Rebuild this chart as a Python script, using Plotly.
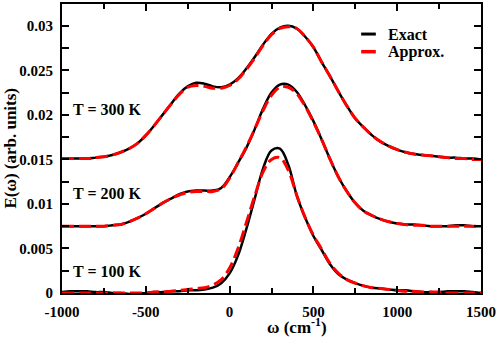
import plotly.graph_objects as go

# frequency grid (cm^-1)
omega = list(range(-1000, 1501, 50))

# T = 300 K (offset 0.015)
exact_300 = [0.0151, 0.0151, 0.0151, 0.0151, 0.0152, 0.0153, 0.0155, 0.0158, 0.0162, 0.0168,
             0.0177, 0.0188, 0.0200, 0.0212, 0.0224, 0.0232, 0.0236, 0.0235, 0.0232, 0.0231,
             0.0234, 0.0241, 0.0252, 0.0265, 0.0279, 0.0291, 0.0298, 0.0300, 0.0297, 0.0288,
             0.0276, 0.0259, 0.0243, 0.0226, 0.0210, 0.0196, 0.0186, 0.0177, 0.0170, 0.0165,
             0.0161, 0.0158, 0.0156, 0.0155, 0.0154, 0.0153, 0.0152, 0.0152, 0.0151, 0.0151,
             0.0150]
approx_300 = [0.0151, 0.0151, 0.0151, 0.0151, 0.0152, 0.0153, 0.0155, 0.0158, 0.0162, 0.0168,
              0.0177, 0.0188, 0.0200, 0.0212, 0.0223, 0.0231, 0.0233, 0.0232, 0.0230, 0.0230,
              0.0233, 0.0240, 0.0251, 0.0264, 0.0278, 0.0290, 0.0297, 0.0299, 0.0297, 0.0288,
              0.0276, 0.0259, 0.0243, 0.0226, 0.0210, 0.0196, 0.0186, 0.0177, 0.0170, 0.0165,
              0.0161, 0.0158, 0.0156, 0.0155, 0.0154, 0.0153, 0.0152, 0.0151, 0.0151, 0.0150,
              0.0150]

# T = 200 K (offset 0.0075)
exact_200 = [0.0075, 0.0075, 0.0075, 0.0075, 0.0075, 0.0075, 0.0076, 0.0077, 0.0080, 0.0084,
             0.0089, 0.0095, 0.0101, 0.0106, 0.0111, 0.0114, 0.0115, 0.0115, 0.0115, 0.0118,
             0.0130, 0.0146, 0.0163, 0.0184, 0.0207, 0.0225, 0.0234, 0.0234, 0.0226, 0.0211,
             0.0193, 0.0172, 0.0150, 0.0130, 0.0114, 0.0101, 0.0092, 0.0087, 0.0083, 0.0080,
             0.0078, 0.0077, 0.0077, 0.0076, 0.0075, 0.0075, 0.0075, 0.0076, 0.0076, 0.0075,
             0.0075]
approx_200 = [0.0075, 0.0075, 0.0075, 0.0075, 0.0075, 0.0075, 0.0076, 0.0077, 0.0080, 0.0084,
              0.0089, 0.0095, 0.0101, 0.0106, 0.0110, 0.0113, 0.0114, 0.0114, 0.0114, 0.0117,
              0.0129, 0.0146, 0.0164, 0.0184, 0.0205, 0.0222, 0.0231, 0.0231, 0.0224, 0.0210,
              0.0192, 0.0172, 0.0150, 0.0130, 0.0114, 0.0101, 0.0092, 0.0087, 0.0083, 0.0080,
              0.0078, 0.0077, 0.0076, 0.0076, 0.0075, 0.0075, 0.0075, 0.0075, 0.0075, 0.0075,
              0.0075]

# T = 100 K (no offset)
exact_100 = [0.0001, 0.0002, 0.0002, 0.0002, 0.0001, 0.0001, 0.0000, 0.0000, -0.0001, -0.0001,
             0.0000, 0.0001, 0.0001, 0.0002, 0.0002, 0.0003, 0.0003, 0.0004, 0.0006, 0.0011,
             0.0022, 0.0042, 0.0072, 0.0106, 0.0140, 0.0160, 0.0162, 0.0144, 0.0110, 0.0085,
             0.0064, 0.0048, 0.0032, 0.0021, 0.0015, 0.0011, 0.0008, 0.0006, 0.0005, 0.0004,
             0.0003, 0.0003, 0.0002, 0.0001, 0.0001, 0.0001, 0.0002, 0.0002, 0.0002, 0.0001,
             0.0000]
approx_100 = [0.0000, 0.0000, 0.0000, 0.0000, 0.0000, 0.0000, 0.0000, 0.0000, 0.0000, 0.0000,
              0.0000, 0.0001, 0.0001, 0.0002, 0.0003, 0.0004, 0.0005, 0.0006, 0.0009, 0.0015,
              0.0028, 0.0050, 0.0079, 0.0109, 0.0136, 0.0150, 0.0152, 0.0138, 0.0110, 0.0085,
              0.0065, 0.0049, 0.0033, 0.0022, 0.0015, 0.0011, 0.0008, 0.0006, 0.0005, 0.0004,
              0.0003, 0.0002, 0.0002, 0.0001, 0.0001, 0.0001, 0.0000, 0.0000, 0.0000, 0.0000,
              0.0000]

temp_labels = ["T = 300 K", "T = 200 K", "T = 100 K"]
temp_label_y = [0.0206, 0.0112, 0.0024]

x_tickvals = [-1000, -500, 0, 500, 1000, 1500]
x_ticktext = ["-1000", "-500", "0", "500", "1000", "1500"]
y_tickvals = [0, 0.005, 0.01, 0.015, 0.02, 0.025, 0.03]
y_ticktext = ["0", "0.005", "0.01", "0.015", "0.02", "0.025", "0.03"]

FONT = "Liberation Serif"

def bold(size):
    return dict(family=FONT, size=size, color="black", weight="bold")

fig = go.Figure()

curves = [(exact_300, approx_300), (exact_200, approx_200), (exact_100, approx_100)]
for ex, ap in curves:
    fig.add_trace(go.Scatter(x=omega, y=ex, mode="lines",
                             line=dict(color="black", width=2.5, shape="spline", smoothing=1),
                             showlegend=False))
for ex, ap in curves:
    fig.add_trace(go.Scatter(x=omega, y=ap, mode="lines",
                             line=dict(color="#ff0000", width=3, dash="12px,5px",
                                       shape="spline", smoothing=1),
                             showlegend=False))

for txt, yv in zip(temp_labels, temp_label_y):
    fig.add_annotation(x=-1000, y=yv, xref="x", yref="y", text=txt,
                       showarrow=False, xanchor="left", yanchor="middle", xshift=9,
                       font=bold(16))

# hand-made legend
fig.add_shape(type="line", xref="paper", yref="paper", x0=0.714, x1=0.749, y0=0.896, y1=0.896,
              line=dict(color="black", width=3))
fig.add_shape(type="line", xref="paper", yref="paper", x0=0.714, x1=0.749, y0=0.835, y1=0.835,
              line=dict(color="#ff0000", width=3.5))
fig.add_annotation(x=0.773, y=0.896, xref="paper", yref="paper", text="Exact",
                   showarrow=False, xanchor="left", yanchor="middle", font=bold(16))
fig.add_annotation(x=0.773, y=0.835, xref="paper", yref="paper", text="Approx.",
                   showarrow=False, xanchor="left", yanchor="middle", font=bold(16))

# axis titles
fig.add_annotation(x=0.562, y=-0.115, xref="paper", yref="paper",
                   text="ω (cm<sup>-1</sup>)", showarrow=False,
                   xanchor="center", yanchor="middle", font=bold(17))
fig.add_annotation(x=-0.124, y=0.5, xref="paper", yref="paper",
                   text="E(ω) (arb. units)", showarrow=False, textangle=-90,
                   xanchor="center", yanchor="middle", font=bold(17))

axis_common = dict(showline=True, linecolor="black", linewidth=2, mirror="ticks",
                   ticks="inside", ticklen=7, tickwidth=2, tickcolor="black",
                   showgrid=False, zeroline=False, tickfont=bold(15))

fig.update_xaxes(range=[-1000, 1500], tickvals=x_tickvals, ticktext=x_ticktext,
                 minor=dict(dtick=250, tick0=0, ticks="inside", ticklen=5, tickwidth=2,
                            tickcolor="black"),
                 ticklabelstandoff=4, **axis_common)
fig.update_yaxes(range=[0, 0.03245], tickvals=y_tickvals, ticktext=y_ticktext,
                 minor=dict(dtick=0.0025, tick0=0, ticks="inside", ticklen=7, tickwidth=2,
                            tickcolor="black"),
                 ticklabelstandoff=4, **axis_common)

fig.update_layout(width=498, height=341, margin=dict(l=62, r=16, t=2, b=48),
                  plot_bgcolor="white", paper_bgcolor="white",
                  font=dict(family=FONT, size=15, color="black"))

# drop the browser's default page margin so the figure sits at the top-left corner
fig.write_html("out.html", config={"displayModeBar": False},
               post_script="document.body.style.margin='0';document.body.style.overflow='hidden';")
